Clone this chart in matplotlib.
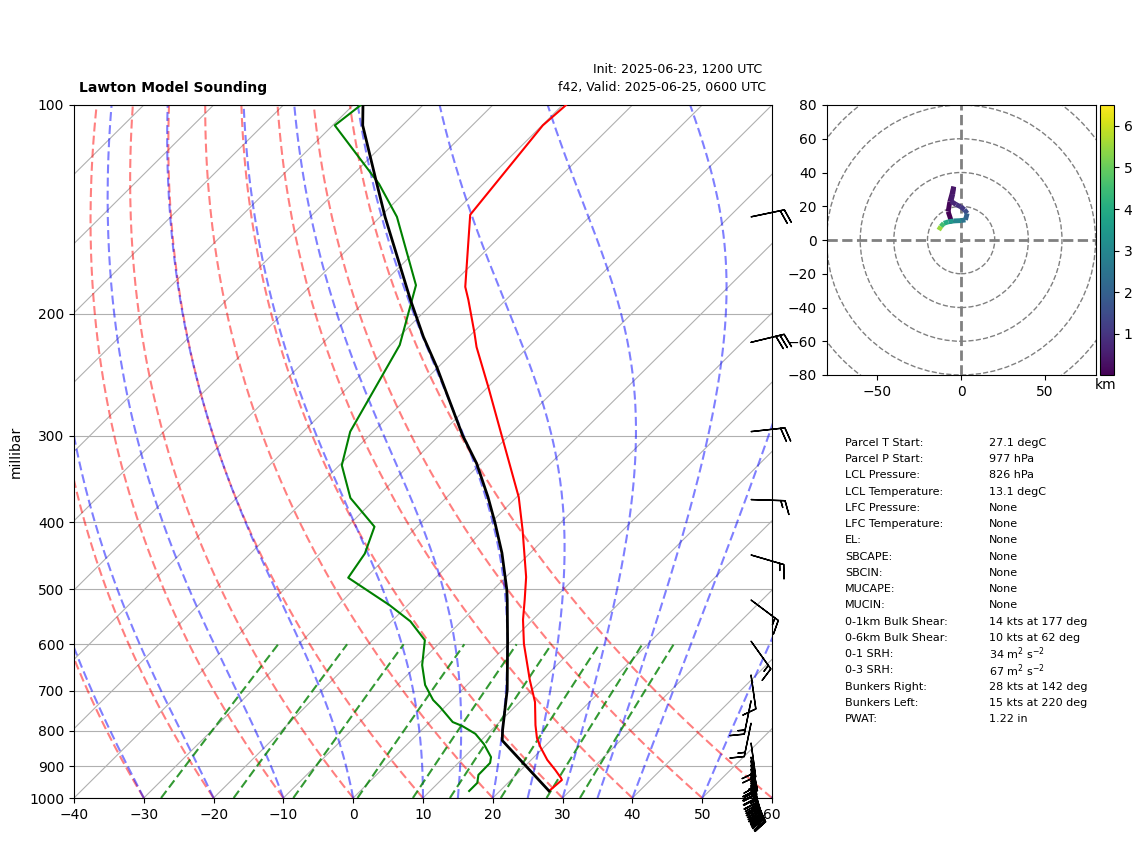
import matplotlib
matplotlib.use('Agg')
import matplotlib.pyplot as plt
import numpy as np
from matplotlib.collections import LineCollection
from matplotlib.transforms import blended_transform_factory

# sounding
p_temp = [977, 942, 936, 911, 881, 844, 819, 785, 727, 676, 599, 553, 518, 480, 410.5, 368, 299.5, 255, 223.5, 213, 191, 183, 144, 107, 100]
temp = [27.05, 27.3, 26.9, 24.9, 22.3, 19.45, 17.65, 15.6, 12.2, 8.3, 2.2, -1.4, -4.0, -7.1, -14.4, -19.7, -31.1, -40, -47.4, -49.8, -55.4, -57.7, -67.4, -69.9, -69.5]

p_dew = [977, 951, 926, 890, 873, 836, 808, 787, 777, 739, 722, 687, 643, 592, 556, 527, 481, 444, 406, 369, 331, 296, 222, 182, 145, 130, 107, 100]
dew = [15.6, 15.6, 14.6, 14.55, 13.85, 10.95, 8.25, 5.2, 3.3, -0.7, -2.7, -6.0, -9.3, -12.5, -17.3, -22.6, -32.5, -33.6, -36.1, -43.7, -49.65, -53.3, -58.7, -65.0, -77.6, -84.9, -99.7, -98.9]

p_parcel = [977, 826, 798, 698, 592, 518, 500, 443, 400, 368, 329, 299.5, 282, 239.5, 216, 191, 145, 128, 107, 100]
parcel = [27.05, 13.05, 11.6, 6.45, -0.65, -6.5, -8.1, -14.05, -19.5, -24.1, -30.6, -36.7, -40.3, -50.05, -56.5, -63.7, -79.3, -86.05, -95.7, -98.6]

# wind barbs, kts
p_barb = [145, 220, 296, 371, 446, 518, 594, 665, 724, 780, 833, 873, 884, 896, 908, 920, 927, 933, 939, 945, 951, 958, 962, 967, 972, 977]
u_barb = [-19.6, -29, -19.9, -15, -14.4, -12, -8.7, -1.4, 3, 3, -2.6, -4, -4, -5, -5, -6, -6, -7, -7, -7, -8, -8, -8, -8, -8.5, -8.5]
v_barb = [-4.1, -7, -2.2, 0.5, 4.2, 9, 12.2, 9.9, 14.7, 14.7, 19, 21, 24, 28, 29, 27, 26, 25, 25, 24, 23, 22, 21, 20, 19, 18]

# hodograph
hodo_u = [-5.4, -7.7, -6.7, -5.5, -4.4, -5, -6, -3, -0.4, 2, 3.6, 2.6, 0, -4.4, -7.5, -10.3, -12, -13.3]
hodo_v = [9.9, 16.8, 22.7, 27, 31.6, 27, 23, 21, 19.8, 18, 15.8, 11.9, 11.5, 11.3, 10.8, 9.9, 8, 5.9]
hodo_z = [0.02, 0.1, 0.2, 0.3, 0.4, 0.5, 0.7, 0.9, 1.1, 1.5, 2, 2.5, 3, 3.5, 4, 4.5, 5.5, 6.5]

isotherms = np.arange(-140, 61, 10)
isobars = [100, 200, 300, 400, 500, 600, 700, 800, 900, 1000]
dry_t0 = np.arange(-40, 61, 10)
moist_t0 = [-30, -20, -10, 0, 10, 15, 20, 25, 30, 35, 40, 50, 60]
mix_w = [0.0004, 0.001, 0.002, 0.004, 0.007, 0.01, 0.016, 0.024, 0.032]

labels = ['Parcel T Start:', 'Parcel P Start:', 'LCL Pressure:', 'LCL Temperature:', 'LFC Pressure:',
          'LFC Temperature:', 'EL:', 'SBCAPE:', 'SBCIN:', 'MUCAPE:', 'MUCIN:', '0-1km Bulk Shear:',
          '0-6km Bulk Shear:', '0-1 SRH:', '0-3 SRH:', 'Bunkers Right:', 'Bunkers Left:', 'PWAT:']
values = ['27.1 degC', '977 hPa', '826 hPa', '13.1 degC', 'None', 'None', 'None', 'None', 'None', 'None', 'None',
          '14 kts at 177 deg', '10 kts at 62 deg', '34 m$^2$ s$^{-2}$', '67 m$^2$ s$^{-2}$',
          '28 kts at 142 deg', '15 kts at 220 deg', '1.22 in']

W, H = 1142, 841
SKEW = 100.0  # deg C per decade of pressure
DASH = (0, (4.3, 2))


def skew(t, p):
    return np.asarray(t, dtype=float) + SKEW * np.log10(1000.0 / np.asarray(p, dtype=float))


def moist_line(t0, plev):
    # simple stepping of the saturated lapse rate
    out = [t0 + 273.15]
    for i in range(1, len(plev)):
        t = out[-1]
        es = 6.112 * np.exp(17.67 * (t - 273.15) / (t - 29.65))
        ws = 0.622 * es / (plev[i - 1] - es)
        lv = 2.501e6
        grad = (287.0 * t + lv * ws) / (1005.0 + lv ** 2 * ws * 0.622 / (287.0 * t ** 2))
        out.append(t + grad * np.log(plev[i] / plev[i - 1]))
    return np.array(out) - 273.15


fig = plt.figure(figsize=(W / 100, H / 100), dpi=100)
ax = fig.add_axes([74 / W, 1 - 798 / H, 698 / W, 693 / H])

plev = np.linspace(1000, 100, 200)
for t in isotherms:
    ax.plot(skew([t, t], [1000, 100]), [1000, 100], color='#b0b0b0', lw=0.8, zorder=1)
for p in isobars:
    ax.axhline(p, color='#b0b0b0', lw=0.8, zorder=1)
for t in dry_t0:
    ax.plot(skew((t + 273.15) * (plev / 1000) ** 0.2854 - 273.15, plev), plev, color='r', ls=DASH, lw=1.5, alpha=0.5, zorder=2)
for t in moist_t0:
    ax.plot(skew(moist_line(t, plev), plev), plev, color='b', ls=DASH, lw=1.5, alpha=0.5, zorder=2)
pmix = np.linspace(1000, 600, 50)
for w in mix_w:
    lne = np.log(w * pmix / (0.622 + w) / 6.112)
    ax.plot(skew(243.5 * lne / (17.67 - lne), pmix), pmix, color='g', ls=DASH, lw=1.5, alpha=0.8, zorder=2)

ax.plot(skew(temp, p_temp), p_temp, color='r', lw=1.5, zorder=4)
ax.plot(skew(dew, p_dew), p_dew, color='g', lw=1.5, zorder=4)
ax.plot(skew(parcel, p_parcel), p_parcel, color='k', lw=2, zorder=5)

ax.set_yscale('log')
ax.set_ylim(1000, 100)
ax.set_xlim(-40, 60)
ax.set_yticks(isobars)
ax.set_yticklabels([str(p) for p in isobars])
ax.minorticks_off()
ax.set_xticks(np.arange(-40, 61, 10))
ax.tick_params(labelsize=10)
ax.set_ylabel('millibar', fontsize=10)
ax.yaxis.set_label_coords((23 - 74) / 698, 0.5)

trans = blended_transform_factory(ax.transAxes, ax.transData)
ax.barbs(np.full(len(p_barb), 0.97), p_barb, u_barb, v_barb, transform=trans, clip_on=False,
         pivot='tip', length=7, linewidth=1, color='k', zorder=6)

fig.text(79 / W, 1 - 88 / H, 'Lawton Model Sounding', fontsize=10, fontweight='bold', va='center')
fig.text(762 / W, 1 - 70 / H, 'Init: 2025-06-23, 1200 UTC', fontsize=9, ha='right', va='center')
fig.text(766 / W, 1 - 88 / H, 'f42, Valid: 2025-06-25, 0600 UTC', fontsize=9, ha='right', va='center')

# hodograph panel
hax = fig.add_axes([826.6 / W, 1 - 375 / H, 269 / W, 270 / H])
for r in [20, 40, 60, 80, 100, 120]:
    hax.add_patch(plt.Circle((0, 0), r, fill=False, color='gray', ls='--', lw=1, clip_on=True))
hax.axhline(0, color='gray', ls='--', lw=2)
hax.axvline(0, color='gray', ls='--', lw=2)
pts = np.column_stack([hodo_u, hodo_v])
segs = np.stack([pts[:-1], pts[1:]], axis=1)
lc = LineCollection(segs, cmap='viridis', linewidths=3.5, zorder=3)
lc.set_array(np.array(hodo_z[:-1]))
lc.set_clim(0.01, 6.5)
hax.add_collection(lc)
hax.set_xlim(-80, 80)
hax.set_ylim(-80, 80)
hax.set_xticks([-50, 0, 50])
hax.set_yticks([-80, -60, -40, -20, 0, 20, 40, 60, 80])
hax.tick_params(labelsize=10)

cax = fig.add_axes([1100 / W, 1 - 375 / H, 14 / W, 270 / H])
cb = fig.colorbar(lc, cax=cax)
cb.set_ticks([1, 2, 3, 4, 5, 6])
cb.ax.tick_params(labelsize=10)
fig.text(1106 / W, 1 - 385 / H, 'km', fontsize=10, ha='center', va='center')

for i in range(len(labels)):
    y = 1 - (443 + i * 16.24) / H
    fig.text(845 / W, y, labels[i], fontsize=8, va='center')
    fig.text(989 / W, y, values[i], fontsize=8, va='center')

fig.savefig('out.png', dpi=100)
